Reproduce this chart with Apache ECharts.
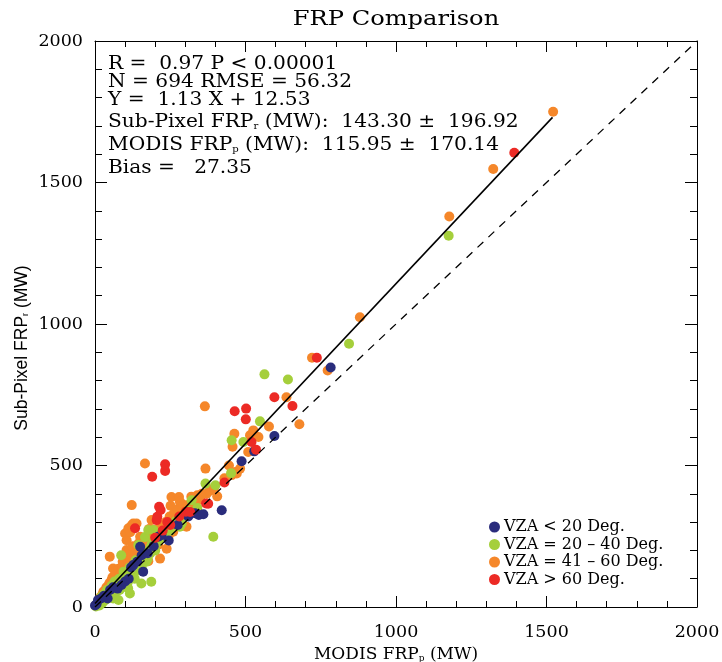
<!DOCTYPE html>
<html>
<head>
<meta charset="utf-8">
<script src="https://cdn.jsdelivr.net/npm/echarts@6/dist/echarts.min.js"></script>
<style>html,body{margin:0;padding:0;background:#fff}#c{width:722px;height:662px}</style>
</head>
<body>
<div id="c"></div>
<script>
// ---- data (MODIS FRP_p [MW], Sub-pixel FRP_r [MW]) ----
var blueVZA = [[0,5],[5,10],[10,25],[20,30],[30,40],[42,30],[50,60],[60,70],[75,65],[88,78],[100,90],[112,100],[120,140],[127,148],[140,160],[150,213],[155,183],[160,125],[175,190],[195,215],[210,248],[221,254],[245,235],[275,290],[310,320],[332,331],[345,325],[360,328],[421,342],[487,515],[529,550],[596,604],[783,846]];
var greenVZA = [[3,2],[5,8],[10,18],[12,10],[15,5],[20,35],[22,20],[25,15],[28,30],[30,45],[33,40],[35,25],[40,60],[45,50],[48,40],[52,55],[55,75],[58,65],[60,30],[62,45],[65,90],[68,72],[72,55],[75,80],[78,25],[80,100],[82,60],[85,90],[87,183],[90,70],[92,100],[95,125],[98,80],[100,105],[103,115],[108,85],[110,66],[112,95],[116,48],[115,140],[120,110],[125,120],[128,140],[132,100],[135,165],[140,150],[144,219],[145,130],[150,160],[154,83],[155,140],[160,185],[165,180],[166,247],[170,160],[175,170],[177,197],[177,272],[183,189],[185,210],[187,89],[188,221],[194,272],[195,230],[200,200],[205,225],[215,240],[220,250],[230,260],[240,265],[250,270],[255,280],[265,300],[275,310],[282,284],[288,295],[300,320],[310,340],[321,377],[340,350],[367,436],[393,248],[400,430],[452,473],[454,589],[493,583],[548,656],[563,822],[641,804],[844,930],[1175,1312]];
var orangeVZA = [[5,8],[10,15],[15,20],[18,35],[20,25],[25,45],[28,55],[30,35],[32,48],[35,60],[38,70],[40,50],[42,62],[45,75],[48,85],[49,178],[50,65],[52,72],[55,95],[58,105],[60,80],[60,136],[62,95],[65,78],[68,120],[70,110],[72,100],[75,90],[78,135],[80,120],[82,110],[85,100],[88,125],[90,140],[92,160],[95,115],[98,130],[100,260],[102,175],[105,236],[105,201],[108,140],[110,150],[111,278],[112,195],[116,166],[117,264],[118,155],[120,130],[122,289],[122,360],[125,215],[127,295],[128,160],[130,175],[135,190],[138,295],[140,155],[143,148],[145,225],[150,248],[150,180],[155,195],[158,210],[160,170],[165,240],[166,507],[170,215],[175,230],[177,162],[180,276],[185,200],[188,307],[190,250],[194,206],[200,235],[200,272],[205,255],[210,220],[215,280],[216,171],[225,260],[230,272],[235,300],[238,206],[240,275],[244,248],[248,320],[251,358],[254,389],[255,295],[260,266],[262,330],[270,310],[275,345],[279,389],[282,372],[282,330],[285,320],[288,365],[290,330],[293,360],[300,345],[304,342],[304,284],[310,360],[315,340],[320,390],[327,354],[330,370],[340,395],[350,380],[355,400],[365,709],[367,489],[371,400],[380,410],[395,420],[406,391],[430,455],[445,500],[454,466],[457,566],[463,612],[466,477],[471,472],[482,489],[509,548],[515,607],[526,624],[543,601],[578,638],[636,741],[679,646],[721,881],[773,836],[880,1024],[1177,1380],[1323,1548],[1522,1750]];
var redVZA = [[133,278],[190,460],[200,245],[205,307],[207,319],[213,354],[218,343],[225,270],[233,481],[233,504],[240,300],[250,290],[280,320],[302,337],[316,336],[369,366],[376,365],[430,440],[464,692],[501,663],[502,701],[520,583],[535,556],[596,741],[656,710],[737,881],[1393,1605]];

var seriesNames = ['VZA < 20 Deg.', 'VZA = 20 \u2013 40 Deg.', 'VZA = 41 \u2013 60 Deg.', 'VZA > 60 Deg.'];
var seriesColors = ['#2a2c7c', '#a5cf3b', '#f5872a', '#ec2a25'];
var drawOrder = [2, 1, 0, 3]; // orange, green, blue, red

// regression Y = 1.13 X + 12.53 ; 1:1 reference line
var fitSlope = 1.13, fitIntercept = 12.53, fitXRange = [0, 1520];
var oneToOne = [[0,0],[2000,2000]];
var fitLine = fitXRange.map(function(x){ return [x, fitSlope*x + fitIntercept]; });

var axisTicks = [0, 500, 1000, 1500, 2000];

var statLines1 = ['R =  0.97 P < 0.00001', 'N = 694 RMSE = 56.32', 'Y =  1.13 X + 12.53'];
var statLines2 = ['Sub-Pixel FRP{s|r} (MW):  143.30 \u00b1  196.92', 'MODIS FRP{s|p} (MW):  115.95 \u00b1  170.14', 'Bias =   27.35'];

var serif = '"DejaVu Serif", serif';
var chart = echarts.init(document.getElementById('c'), null, {renderer:'canvas'});

function mkAxis(pos, showLabel, majorLen, minorLen, extra) {
  var a = {
    type: 'value', position: pos, min: axisTicks[0], max: axisTicks[axisTicks.length-1], interval: 500,
    axisLine: {show: true, onZero: false, lineStyle: {color: '#000', width: 1}},
    axisTick: {show: true, inside: true, length: majorLen, lineStyle: {color: '#000', width: 1}},
    minorTick: {show: true, splitNumber: 5, length: minorLen, lineStyle: {color: '#000', width: 1}},
    splitLine: {show: false},
    axisLabel: {show: showLabel}
  };
  for (var k in extra) a[k] = extra[k];
  return a;
}
function plain(v){ return String(v); }

var allData = [blueVZA, greenVZA, orangeVZA, redVZA];
var scatterSeries = drawOrder.map(function(i){
  return {
    name: seriesNames[i], type: 'scatter', data: allData[i], symbol: 'circle', symbolSize: 10,
    itemStyle: {color: seriesColors[i], opacity: 1}, xAxisIndex: 0, yAxisIndex: 0, z: 2
  };
});

var option = {
  animation: false,
  backgroundColor: '#fff',
  grid: {left: 95, right: 25, top: 41, bottom: 55, containLabel: false, outerBoundsMode: 'none'},
  xAxis: [
    mkAxis('bottom', true, 11, 6, {
      name: 'MODIS FRP{s|p} (MW)', nameLocation: 'middle', nameGap: 38,
      nameTextStyle: {color: '#000', fontFamily: serif, fontSize: 17, rich: {s: {fontSize: 9, fontFamily: serif, padding: [8,0,0,0]}}},
      axisLabel: {show: true, color: '#000', fontFamily: serif, fontSize: 17.5, margin: 16, formatter: plain}
    }),
    mkAxis('top', false, 11, 6, {})
  ],
  yAxis: [
    mkAxis('left', true, 12, 7, {
      axisLabel: {show: true, color: '#000', fontFamily: serif, fontSize: 17.5, margin: 12, formatter: plain}
    }),
    mkAxis('right', false, 12, 7, {})
  ],
  legend: {
    orient: 'vertical', left: 484, top: 514, itemGap: 1.5, itemWidth: 11, itemHeight: 11,
    icon: 'circle', data: seriesNames,
    textStyle: {color: '#000', fontFamily: serif, fontSize: 16, padding: [0,0,0,-1]}
  },
  graphic: [{
    type: 'text', x: 396, y: 20, scaleX: 1.15,
    style: {text: 'FRP Comparison', font: '21px "DejaVu Serif"', fill: '#000', textAlign: 'center', textVerticalAlign: 'middle'}
  }, {
    type: 'text', x: 22, y: 348, rotation: Math.PI/2,
    style: {
      text: 'Sub-Pixel FRP{s|r} (MW)', font: '17.5px "Liberation Sans"', fill: '#000', textAlign: 'center', textVerticalAlign: 'middle',
      rich: {s: {font: '9px "Liberation Sans"', fill: '#000', padding: [8,0,0,0]}}
    }
  }, {
    type: 'text', x: 108, y: 55, scaleX: 1.12,
    style: {text: statLines1.join('\n'), font: '18px "DejaVu Serif"', fill: '#000', lineHeight: 18}
  }, {
    type: 'text', x: 108, y: 111, scaleX: 1.12,
    style: {
      text: statLines2.join('\n'), font: '18px "DejaVu Serif"', fill: '#000', lineHeight: 23,
      rich: {s: {font: '9px "DejaVu Serif"', fill: '#000', padding: [8,0,0,0]}}
    }
  }],
  series: scatterSeries.concat([
    {type: 'line', data: oneToOne, symbol: 'none', z: 5, silent: true,
     lineStyle: {color: '#000', width: 1.3, type: [8, 7]}},
    {type: 'line', data: fitLine, symbol: 'none', z: 5, silent: true,
     lineStyle: {color: '#000', width: 1.6}}
  ])
};
chart.setOption(option);
</script>
</body>
</html>
